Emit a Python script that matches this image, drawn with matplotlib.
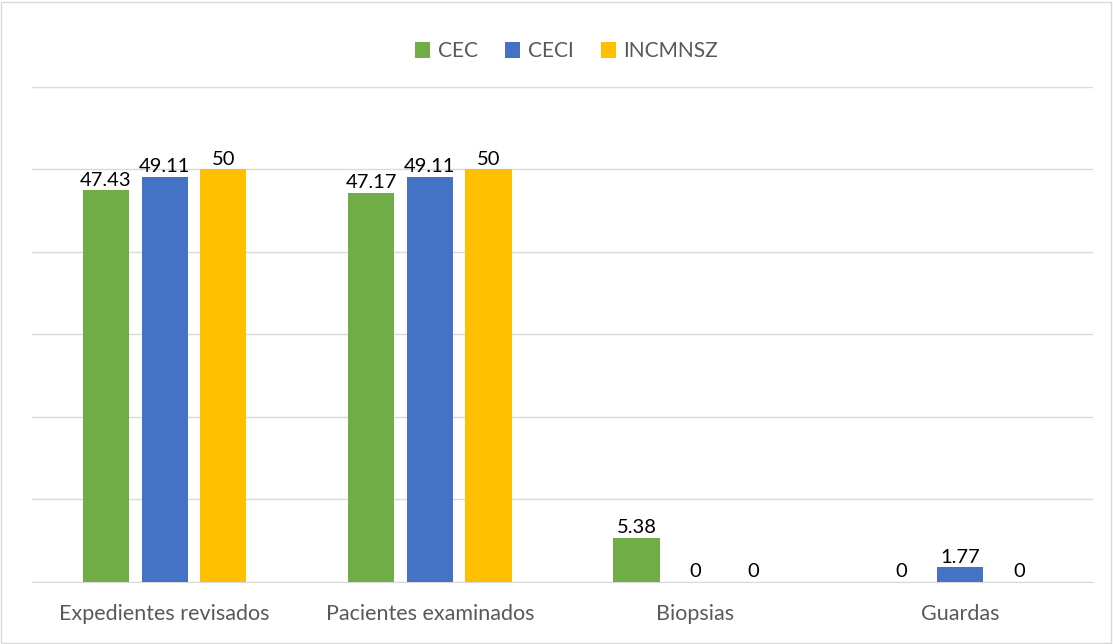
import matplotlib.pyplot as plt
import numpy as np
from matplotlib.patches import Rectangle

categorias = ['Expedientes revisados', 'Pacientes examinados', 'Biopsias', 'Guardas']
series = ['CEC', 'CECI', 'INCMNSZ']
cec = [47.43, 47.17, 5.38, 0]
ceci = [49.11, 49.11, 0, 1.77]
incmnsz = [50, 50, 0, 0]
etiquetas = [['47.43', '47.17', '5.38', '0'],
             ['49.11', '49.11', '0', '1.77'],
             ['50', '50', '0', '0']]
colores = ['#70ad47', '#4472c4', '#ffc000']

plt.rcParams['font.family'] = ['Lato', 'DejaVu Sans']

fig = plt.figure(figsize=(11.13, 6.44), dpi=100)
ax = fig.add_axes([0.0288, 0.0963, 0.9532, 0.769])

x = np.arange(len(categorias))
ancho = 0.174
paso = 0.221
for i, (vals, nombre) in enumerate(zip([cec, ceci, incmnsz], series)):
    pos = x + (i - 1) * paso
    ax.bar(pos, vals, ancho, color=colores[i], label=nombre, zorder=3)
    for p, v, t in zip(pos, vals, etiquetas[i]):
        ax.text(p, v + 0.2, t, ha='center', va='bottom', fontsize=14.5, color='black', zorder=4)

ax.set_xlim(-0.5, 3.5)
ax.set_ylim(0, 60)
ax.set_yticks(np.arange(0, 61, 10))
ax.yaxis.grid(True, color='#d9d9d9', linewidth=1)
ax.set_axisbelow(True)
ax.tick_params(axis='y', left=False, labelleft=False)
ax.tick_params(axis='x', bottom=False, labelsize=15.5, labelcolor='#595959', pad=12)
ax.set_xticks(x)
ax.set_xticklabels(categorias)
for s in ['top', 'right', 'left']:
    ax.spines[s].set_visible(False)
ax.spines['bottom'].set_color('#d9d9d9')

fig.legend(loc='upper center', bbox_to_anchor=(0.509, 0.965), ncol=3, frameon=False,
           fontsize=15, labelcolor='#595959', handlelength=0.75, handleheight=0.75,
           handletextpad=0.35, columnspacing=1.3)

fig.patches.append(Rectangle((0.001, 0.002), 0.997, 0.995, transform=fig.transFigure,
                             fill=False, edgecolor='#d9d9d9', linewidth=1))

fig.savefig('out.png', dpi=100)
